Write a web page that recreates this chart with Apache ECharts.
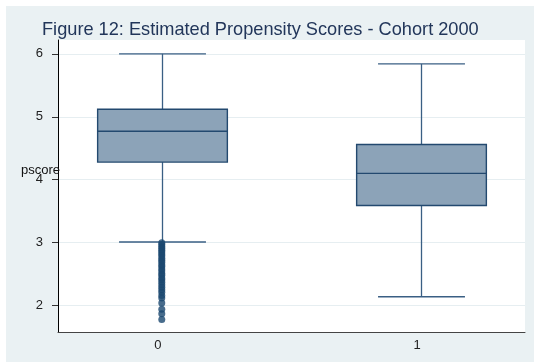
<!DOCTYPE html>
<html>
<head>
<meta charset="utf-8">
<script src="https://cdn.jsdelivr.net/npm/echarts@6/dist/echarts.min.js"></script>
<style>
  html, body { margin: 0; padding: 0; background: #fff; }
  #chart { width: 534px; height: 362px; }
</style>
</head>
<body>
<div id="chart"></div>
<script>
// Groups on the x axis and their box summaries: [lower whisker, Q1, median, Q3, upper whisker]
const groups = [0, 1];
const boxStats = [
  [3.01, 4.28, 4.77, 5.12, 6.00],
  [2.14, 3.59, 4.10, 4.56, 5.84]
];
// Points beyond the lower whisker of group 0
const outliers0 = [3.00, 2.97, 2.94, 2.91, 2.88, 2.85, 2.82, 2.79, 2.75, 2.72,
  2.69, 2.65, 2.62, 2.58, 2.55, 2.51, 2.48, 2.44, 2.41, 2.37, 2.33, 2.29,
  2.25, 2.21, 2.16, 2.12, 2.04, 1.94, 1.87, 1.78];
const yTicks = [2, 3, 4, 5, 6];
const xTicks = [0, 1];

const BOX_W = 0.5;
const CAP_W = 0.335;
const navy = '#1A476F';

const boxData = groups.map((g, i) => [g].concat(boxStats[i]));
const outlierData = outliers0.map(v => [0, v]);

function renderBox(params, api) {
  const x = api.value(0);
  const lo = api.value(1), q1 = api.value(2), med = api.value(3), q3 = api.value(4), hi = api.value(5);
  const halfBox = api.size([BOX_W, 0])[0] / 2;
  const halfCap = api.size([CAP_W, 0])[0] / 2;
  const c = api.coord([x, med]);
  const cx = Math.round(c[0]) + 0.5;
  const yLo = api.coord([x, lo])[1];
  const yQ1 = api.coord([x, q1])[1];
  const yMed = c[1];
  const yQ3 = api.coord([x, q3])[1];
  const yHi = api.coord([x, hi])[1];
  const wStyle = { stroke: '#3A5F84', lineWidth: 1.3 };
  return {
    type: 'group',
    children: [
      { type: 'line', shape: { x1: cx, y1: yQ3, x2: cx, y2: yHi }, style: wStyle },
      { type: 'line', shape: { x1: cx, y1: yQ1, x2: cx, y2: yLo }, style: wStyle },
      { type: 'line', shape: { x1: cx - halfCap, y1: yHi, x2: cx + halfCap, y2: yHi }, style: wStyle },
      { type: 'line', shape: { x1: cx - halfCap, y1: yLo, x2: cx + halfCap, y2: yLo }, style: wStyle },
      { type: 'rect', shape: { x: cx - halfBox, y: yQ3, width: 2 * halfBox, height: yQ1 - yQ3 },
        style: { fill: '#8CA3B8', stroke: '#23496F', lineWidth: 1.4 } },
      { type: 'line', shape: { x1: cx - halfBox, y1: yMed, x2: cx + halfBox, y2: yMed },
        style: { stroke: '#23496F', lineWidth: 1.4 } }
    ]
  };
}

const chart = echarts.init(document.getElementById('chart'), null, { renderer: 'canvas' });
chart.setOption({
  backgroundColor: '#EAF1F3',
  animation: false,
  textStyle: { fontFamily: 'Liberation Sans, Arial, sans-serif' },
  title: {
    text: 'Figure 12: Estimated Propensity Scores - Cohort 2000',
    left: 42, top: 21,
    padding: 0,
    textStyle: { fontSize: 18.2, fontWeight: 'normal', color: '#22365A', fontFamily: 'Liberation Sans, Arial, sans-serif' }
  },
  graphic: [
    { type: 'rect', shape: { x: 0, y: 0, width: 534, height: 6 }, style: { fill: '#fff' }, silent: true },
    { type: 'rect', shape: { x: 0, y: 0, width: 6, height: 362 }, style: { fill: '#fff' }, silent: true },
    { type: 'text', left: 21, top: 164, silent: true, z: 10,
      style: { text: 'pscore', fontSize: 13, fill: '#111', fontFamily: 'Liberation Sans, Arial, sans-serif' } }
  ],
  grid: {
    left: 58, top: 40, right: 9, bottom: 30,
    show: true, backgroundColor: '#fff', borderWidth: 0
  },
  xAxis: {
    type: 'value', min: -0.4, max: 1.4,
    axisLine: { show: true, onZero: false, lineStyle: { color: '#444', width: 1 } },
    axisTick: { show: false },
    splitLine: { show: false },
    axisLabel: {
      customValues: xTicks, fontSize: 13, color: '#222', margin: 7,
      padding: [0, 8, 0, 0]
    }
  },
  yAxis: {
    type: 'value', min: 1.58, max: 6.22,
    axisLine: { show: true, onZero: false, lineStyle: { color: '#000', width: 1 } },
    axisTick: { show: true, customValues: yTicks, length: 6, lineStyle: { color: '#333' } },
    axisLabel: { customValues: yTicks, fontSize: 13, color: '#222', margin: 15 },
    splitLine: { show: true, lineStyle: { color: '#E6EEF1', width: 1 } }
  },
  series: [
    {
      type: 'custom',
      renderItem: renderBox,
      data: boxData,
      encode: { x: 0, y: [1, 2, 3, 4, 5] },
      z: 3
    },
    {
      type: 'scatter',
      data: outlierData,
      symbol: 'circle',
      symbolSize: 7,
      itemStyle: { color: navy },
      z: 4
    }
  ]
});
</script>
</body>
</html>
